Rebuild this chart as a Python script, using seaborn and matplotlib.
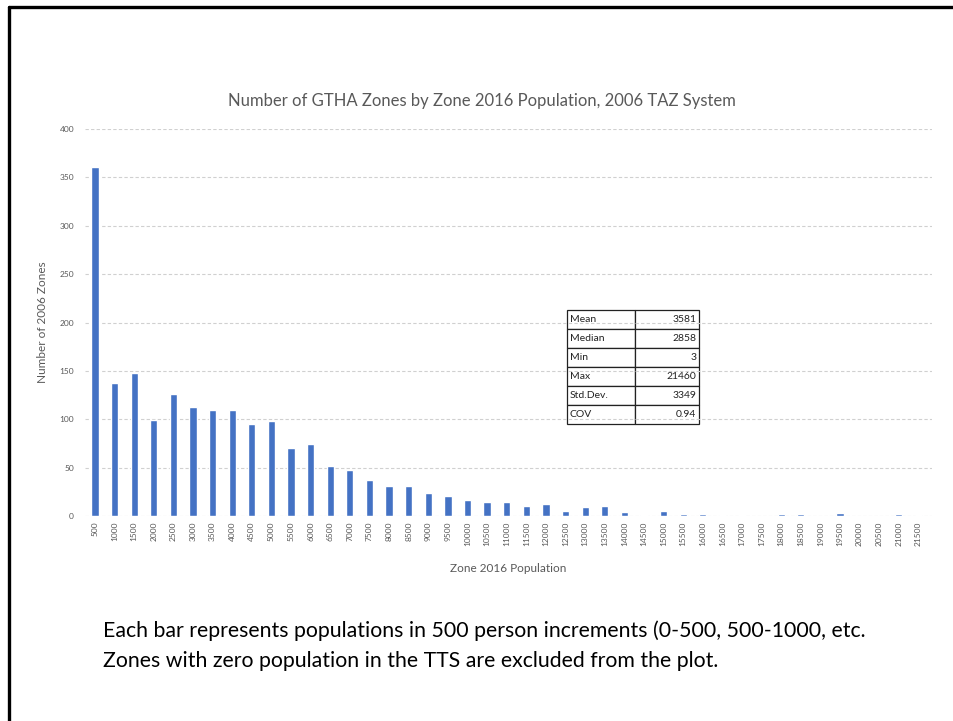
import matplotlib
matplotlib.use("Agg")
import matplotlib.pyplot as plt
from matplotlib.lines import Line2D
import seaborn as sns
import pandas as pd

# Upper bound of each 500-person population bin
bin_labels = [str(v) for v in range(500, 22000, 500)]
zone_counts = [361, 137, 148, 99, 126, 113, 110, 110, 95, 98,
               70, 74, 52, 48, 37, 31, 31, 24, 21, 17,
               14, 15, 10, 12, 5, 9, 10, 4, 1, 5,
               2, 2, 1, 1, 0, 2, 2, 0, 3, 0,
               0, 2, 1]

stat_names = ["Mean", "Median", "Min", "Max", "Std.Dev.", "COV"]
stat_values = ["3581", "2858", "3", "21460", "3349", "0.94"]

title = "Number of GTHA Zones by Zone 2016 Population, 2006 TAZ System"
note_lines = [
    "Each bar represents populations in 500 person increments (0-500, 500-1000, etc.",
    "Zones with zero population in the TTS are excluded from the plot.",
]

sns.set_theme(style="white")
plt.rcParams["font.family"] = ["Lato", "DejaVu Sans"]

df = pd.DataFrame({"bin": bin_labels, "zones": zone_counts})

fig = plt.figure(figsize=(9.54, 7.21), dpi=100)
ax = fig.add_axes([0.0893, 0.2843, 0.8878, 0.5368])

sns.barplot(data=df, x="bin", y="zones", order=bin_labels, color="#4472C4",
            saturation=1, width=0.37, ax=ax)

ax.set_ylim(0, 400)
ax.set_xlim(-0.5, len(bin_labels) - 0.3)
ax.set_yticks(range(0, 401, 50))
ax.yaxis.grid(True, linestyle=(0, (3, 2)), color="#d0d0d0", linewidth=0.8)
ax.set_axisbelow(True)
for s in ax.spines.values():
    s.set_visible(False)

ax.tick_params(axis="y", labelsize=6, colors="#595959", length=0, pad=8)
ax.tick_params(axis="x", labelsize=6, colors="#595959", length=0, pad=4,
               labelrotation=90)

ax.set_xlabel("Zone 2016 Population", fontsize=8.5, color="#595959", labelpad=12)
ax.set_ylabel("Number of 2006 Zones", fontsize=8.5, color="#595959", labelpad=8)

fig.text(0.505, 1 - 101 / 721, title, fontsize=12, color="#595959",
         ha="center", va="center")

# Summary statistics table
tbl = ax.table(cellText=[[n, v] for n, v in zip(stat_names, stat_values)],
               colWidths=[0.515, 0.485], cellLoc="left",
               bbox=[0.5717 * 0.8834 / 0.8878, 0.2377, 0.1566 * 0.8834 / 0.8878, 0.2946])
tbl.auto_set_font_size(False)
tbl.set_fontsize(7.5)
for (r, c), cell in tbl.get_celld().items():
    cell.set_edgecolor("#222222")
    cell.set_linewidth(0.9)
    cell.set_facecolor("white")
    cell.PAD = 0.04
    cell.get_text().set_color("#222222")
    if c == 1:
        cell.get_text().set_ha("right")
        cell._loc = "right"

# Explanatory note below the chart
fig.text(0.108, 1 - 637 / 721, note_lines[0], fontsize=15.3, color="black",
         ha="left", va="baseline")
fig.text(0.108, 1 - 667 / 721, note_lines[1], fontsize=15.3, color="black",
         ha="left", va="baseline")

# Frame lines along the top and left edges
fig.add_artist(Line2D([0.0095, 1.0], [0.9905, 0.9905], color="black",
                      linewidth=2.4, transform=fig.transFigure))
fig.add_artist(Line2D([0.0095, 0.0095], [0.0, 0.9905], color="black",
                      linewidth=2.4, transform=fig.transFigure))

fig.savefig("out.png", dpi=100, facecolor="white")
